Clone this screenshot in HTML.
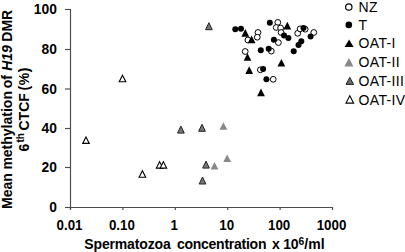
<!DOCTYPE html>
<html><head><meta charset="utf-8"><style>
html,body{margin:0;padding:0;background:#fff;width:405px;height:252px;overflow:hidden}
svg{display:block}
.b{font-family:"Liberation Sans",sans-serif;font-weight:bold;font-size:13.5px;fill:#000}
.yb{font-family:"Liberation Sans",sans-serif;font-weight:bold;font-size:13.8px;fill:#000}
.t{font-family:"Liberation Sans",sans-serif;font-weight:bold;font-size:14px;fill:#000}
.r{font-family:"Liberation Sans",sans-serif;font-size:14px;letter-spacing:0.35px;fill:#000}
</style></head><body>
<svg width="405" height="252" viewBox="0 0 405 252">
<rect width="405" height="252" fill="#fff"/>
<line x1="70.5" y1="9" x2="70.5" y2="210" stroke="#4a4a4a" stroke-width="1.15"/>
<line x1="70" y1="207.5" x2="332.5" y2="207.5" stroke="#4a4a4a" stroke-width="1.15"/>
<line x1="65" y1="9.5" x2="70.5" y2="9.5" stroke="#4a4a4a" stroke-width="1.15"/>
<text x="56.9" y="14.4" text-anchor="end" class="yb">100</text>
<line x1="65" y1="49.5" x2="70.5" y2="49.5" stroke="#4a4a4a" stroke-width="1.15"/>
<text x="56.9" y="54.4" text-anchor="end" class="yb">80</text>
<line x1="65" y1="89" x2="70.5" y2="89" stroke="#4a4a4a" stroke-width="1.15"/>
<text x="56.9" y="93.9" text-anchor="end" class="yb">60</text>
<line x1="65" y1="128.5" x2="70.5" y2="128.5" stroke="#4a4a4a" stroke-width="1.15"/>
<text x="56.9" y="133.4" text-anchor="end" class="yb">40</text>
<line x1="65" y1="167.5" x2="70.5" y2="167.5" stroke="#4a4a4a" stroke-width="1.15"/>
<text x="56.9" y="172.4" text-anchor="end" class="yb">20</text>
<line x1="65" y1="207.5" x2="70.5" y2="207.5" stroke="#4a4a4a" stroke-width="1.15"/>
<text x="56.9" y="212.4" text-anchor="end" class="yb">0</text>
<line x1="70.5" y1="207" x2="70.5" y2="210" stroke="#4a4a4a" stroke-width="1.15"/>
<text transform="translate(69.5,230.2) scale(0.965,1)" text-anchor="middle" class="yb">0.01</text>
<line x1="122.9" y1="207" x2="122.9" y2="210" stroke="#4a4a4a" stroke-width="1.15"/>
<text transform="translate(121.9,230.2) scale(0.965,1)" text-anchor="middle" class="yb">0.10</text>
<line x1="175.3" y1="207" x2="175.3" y2="210" stroke="#4a4a4a" stroke-width="1.15"/>
<text transform="translate(174.3,230.2) scale(0.965,1)" text-anchor="middle" class="yb">1</text>
<line x1="227.7" y1="207" x2="227.7" y2="210" stroke="#4a4a4a" stroke-width="1.15"/>
<text transform="translate(226.7,230.2) scale(0.965,1)" text-anchor="middle" class="yb">10</text>
<line x1="280.1" y1="207" x2="280.1" y2="210" stroke="#4a4a4a" stroke-width="1.15"/>
<text transform="translate(279.1,230.2) scale(0.965,1)" text-anchor="middle" class="yb">100</text>
<line x1="332.5" y1="207" x2="332.5" y2="210" stroke="#4a4a4a" stroke-width="1.15"/>
<text transform="translate(331.5,230.2) scale(0.965,1)" text-anchor="middle" class="yb">1000</text>
<circle cx="258" cy="32.5" r="2.9" fill="#fff" stroke="#000" stroke-width="1"/>
<circle cx="257.3" cy="37.2" r="2.9" fill="#fff" stroke="#000" stroke-width="1"/>
<circle cx="247.9" cy="40" r="2.9" fill="#fff" stroke="#000" stroke-width="1"/>
<circle cx="245.2" cy="51.5" r="2.9" fill="#fff" stroke="#000" stroke-width="1"/>
<circle cx="277.8" cy="22.4" r="2.9" fill="#fff" stroke="#000" stroke-width="1"/>
<circle cx="276.2" cy="27.5" r="2.9" fill="#fff" stroke="#000" stroke-width="1"/>
<circle cx="280.6" cy="28.0" r="2.9" fill="#fff" stroke="#000" stroke-width="1"/>
<circle cx="281.1" cy="32.5" r="2.9" fill="#fff" stroke="#000" stroke-width="1"/>
<circle cx="278.4" cy="42.6" r="2.9" fill="#fff" stroke="#000" stroke-width="1"/>
<circle cx="271.3" cy="51.1" r="2.9" fill="#fff" stroke="#000" stroke-width="1"/>
<circle cx="260.4" cy="69.8" r="2.9" fill="#fff" stroke="#000" stroke-width="1"/>
<circle cx="273.2" cy="79.3" r="2.9" fill="#fff" stroke="#000" stroke-width="1"/>
<circle cx="297.7" cy="33.3" r="2.9" fill="#fff" stroke="#000" stroke-width="1"/>
<circle cx="300.1" cy="28.9" r="2.9" fill="#fff" stroke="#000" stroke-width="1"/>
<circle cx="305.2" cy="29.2" r="2.9" fill="#fff" stroke="#000" stroke-width="1"/>
<circle cx="313.8" cy="32.5" r="2.9" fill="#fff" stroke="#000" stroke-width="1"/>
<circle cx="235.3" cy="29.2" r="3.0" fill="#000"/>
<circle cx="241" cy="28.7" r="3.0" fill="#000"/>
<circle cx="269.8" cy="22.8" r="3.0" fill="#000"/>
<circle cx="284" cy="35.4" r="3.0" fill="#000"/>
<circle cx="288.4" cy="38" r="3.0" fill="#000"/>
<circle cx="273.9" cy="39.7" r="3.0" fill="#000"/>
<circle cx="260.8" cy="50.2" r="3.0" fill="#000"/>
<circle cx="268.7" cy="48.7" r="3.0" fill="#000"/>
<circle cx="263.1" cy="68.9" r="3.0" fill="#000"/>
<circle cx="266.4" cy="79.3" r="3.0" fill="#000"/>
<circle cx="303.5" cy="28" r="3.0" fill="#000"/>
<circle cx="310.6" cy="36.4" r="3.0" fill="#000"/>
<circle cx="301.3" cy="41.3" r="3.0" fill="#000"/>
<circle cx="298.5" cy="45.1" r="3.0" fill="#000"/>
<circle cx="293.7" cy="51.3" r="3.0" fill="#000"/>
<polygon points="245.30,29.10 249.20,36.70 241.40,36.70" fill="#000"/>
<polygon points="251.60,35.60 255.50,43.20 247.70,43.20" fill="#000"/>
<polygon points="287.30,21.80 291.20,29.40 283.40,29.40" fill="#000"/>
<polygon points="247.50,53.20 251.40,60.80 243.60,60.80" fill="#000"/>
<polygon points="249.20,66.30 253.10,73.90 245.30,73.90" fill="#000"/>
<polygon points="281.40,58.90 285.30,66.50 277.50,66.50" fill="#000"/>
<polygon points="261.00,88.60 264.90,96.20 257.10,96.20" fill="#000"/>
<polygon points="223.40,122.20 227.30,129.80 219.50,129.80" fill="#888"/>
<polygon points="227.20,154.40 231.10,162.00 223.30,162.00" fill="#888"/>
<polygon points="214.50,162.00 218.40,169.60 210.60,169.60" fill="#888"/>
<polygon points="208.90,22.70 212.25,29.70 205.55,29.70" fill="#777" stroke="#222" stroke-width="1"/>
<polygon points="180.90,126.10 184.25,133.10 177.55,133.10" fill="#777" stroke="#222" stroke-width="1"/>
<polygon points="202.00,124.30 205.35,131.30 198.65,131.30" fill="#777" stroke="#222" stroke-width="1"/>
<polygon points="206.00,161.10 209.35,168.10 202.65,168.10" fill="#777" stroke="#222" stroke-width="1"/>
<polygon points="202.50,177.00 205.85,184.00 199.15,184.00" fill="#777" stroke="#222" stroke-width="1"/>
<polygon points="122.50,75.30 125.80,81.70 119.20,81.70" fill="#fff" stroke="#000" stroke-width="1.1"/>
<polygon points="86.00,137.00 89.30,143.40 82.70,143.40" fill="#fff" stroke="#000" stroke-width="1.1"/>
<polygon points="142.40,170.80 145.70,177.20 139.10,177.20" fill="#fff" stroke="#000" stroke-width="1.1"/>
<polygon points="159.60,161.70 162.90,168.10 156.30,168.10" fill="#fff" stroke="#000" stroke-width="1.1"/>
<polygon points="163.40,161.70 166.70,168.10 160.10,168.10" fill="#fff" stroke="#000" stroke-width="1.1"/>
<text x="358.5" y="12.2" class="r">NZ</text>
<text x="358.5" y="30.3" class="r">T</text>
<text x="358.5" y="48.4" class="r">OAT-I</text>
<text x="358.5" y="67.2" class="r">OAT-II</text>
<text x="358.5" y="86.1" class="r">OAT-III</text>
<text x="358.5" y="104.6" class="r">OAT-IV</text>
<circle cx="348.8" cy="7" r="3.2" fill="#fff" stroke="#000" stroke-width="1.2"/>
<circle cx="348.8" cy="24.9" r="3.3" fill="#000"/>
<polygon points="349.10,39.40 353.60,46.90 344.60,46.90" fill="#000"/>
<polygon points="348.90,58.00 353.40,66.40 344.40,66.40" fill="#888"/>
<polygon points="349.80,77.40 353.60,84.40 346.00,84.40" fill="#6a6a6a" stroke="#222" stroke-width="1"/>
<polygon points="349.80,95.70 353.60,103.10 346.00,103.10" fill="#fff" stroke="#000" stroke-width="1.1"/>
<text y="248.5" class="t" letter-spacing="-0.25"><tspan x="84.3" letter-spacing="-0.15">Spermatozoa</tspan><tspan x="176.9">concentration</tspan><tspan x="271.9">x</tspan><tspan x="283.3">10</tspan></text>
<text x="298.4" y="244.9" class="t" style="font-size:10.3px">6</text>
<text x="304.3" y="248.5" class="t">/ml</text>
<g transform="translate(11.7,207.8) rotate(-90)"><text y="0" class="t"><tspan x="-1.1">Mean</tspan><tspan x="38.2">methylation</tspan><tspan x="119.6">of</tspan><tspan x="137" font-style="italic">H19</tspan><tspan x="166.1">DMR</tspan></text></g>
<g transform="translate(29.0,150.7) rotate(-90)"><text y="0" class="t"><tspan x="-0.9">6</tspan><tspan x="8.2" y="-5.0" style="font-size:10px">th</tspan><tspan x="20.2" y="0">CTCF</tspan><tspan x="60.3" letter-spacing="0.5">(%)</tspan></text></g>
</svg>
</body></html>
